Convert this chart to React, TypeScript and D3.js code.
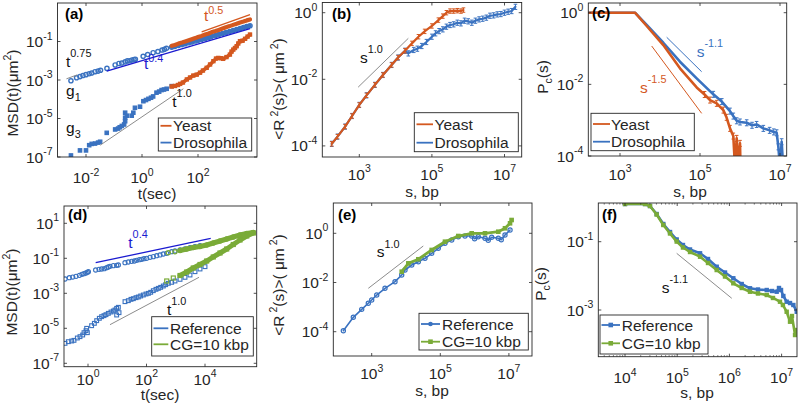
import React from 'react';
import * as d3 from 'd3';

type P = [number, number];

// ================= Panel (a): MSD(t), yeast vs drosophila =================
const aXTicks = [-2, 0, 2];
const aYTicks = [-7, -5, -3, -1];
const aDrosG1: P[] = [
  [2.9e-3, 9.1e-4], [4.6e-3, 1.3e-3], [6.1e-3, 1.5e-3], [7.8e-3, 1.7e-3], [1.0e-2, 1.9e-3],
  [1.3e-2, 2.1e-3], [1.6e-2, 2.3e-3], [2.1e-2, 2.7e-3], [2.7e-2, 2.9e-3], [3.3e-2, 3.2e-3],
  [5.6e-2, 4.0e-3], [0.11, 6.0e-3], [0.15, 7.2e-3], [0.19, 7.6e-3], [0.25, 8.7e-3],
  [0.30, 9.8e-3], [0.37, 1.0e-2], [0.44, 1.1e-2], [0.52, 1.15e-2], [0.58, 1.2e-2],
  [1.1, 1.7e-2], [1.6, 2.1e-2], [2.5, 2.6e-2], [3.7, 3.0e-2], [5.2, 3.6e-2], [6.3, 3.9e-2], [7.5, 4.4e-2],
  [11.5, 0.051], [15, 0.056], [20, 0.062], [27, 0.069], [35, 0.077], [47, 0.086], [60, 0.095],
  [80, 0.106], [100, 0.115], [135, 0.13], [180, 0.145], [240, 0.162], [300, 0.18], [420, 0.205],
  [550, 0.23], [750, 0.26], [1000, 0.29], [1350, 0.33], [1800, 0.37], [2400, 0.42], [3200, 0.47],
  [4200, 0.53], [5500, 0.6], [7200, 0.66],
];
const aYeastG1: P[] = [
  [11.5, 0.06], [15, 0.066], [20, 0.078], [27, 0.088], [35, 0.1], [47, 0.115], [60, 0.13],
  [80, 0.15], [100, 0.17], [135, 0.195], [180, 0.23], [240, 0.26], [300, 0.3], [420, 0.35],
  [550, 0.4], [750, 0.47], [1000, 0.55], [1350, 0.63], [1800, 0.73], [2400, 0.84], [3200, 0.98],
  [4200, 1.1], [5500, 1.25], [7200, 1.4],
];
const aDrosG3: P[] = [
  [2.9e-3, 1.2e-7], [6.1e-3, 2.2e-7], [1.0e-2, 2.2e-7], [1.3e-2, 4.1e-7], [1.6e-2, 4.8e-7],
  [2.1e-2, 5.0e-7], [2.7e-2, 5.6e-7], [3.2e-2, 6.2e-7], [5.5e-2, 1.8e-6], [0.11, 2.7e-6],
  [0.14, 3.0e-6], [0.16, 3.5e-6], [0.19, 4.1e-6], [0.23, 4.9e-6], [0.25, 7.2e-6], [0.25, 1.1e-5],
  [0.25, 2.0e-5], [0.29, 1.4e-5], [0.43, 1.4e-5], [0.49, 2.0e-5], [0.56, 3.6e-5], [0.85, 4.1e-5],
  [1.12, 7.9e-5], [1.39, 9.1e-5], [1.7, 1.05e-4], [2.1, 1.2e-4], [2.5, 1.4e-4], [3.3, 2.2e-4],
  [4.1, 2.5e-4], [5.0, 3.0e-4], [6.1, 3.2e-4], [7.6, 3.5e-4], [11.5, 4.8e-4],
];
const aYeastG3: P[] = [
  [11.5, 4.6e-4], [15, 4.9e-4], [19.3, 5.5e-4], [23, 6.3e-4], [29, 7.4e-4], [40, 1.07e-3],
  [52, 1.35e-3], [68, 1.7e-3], [90, 1.9e-3], [118, 2.4e-3], [150, 3.1e-3], [204, 4.3e-3],
  [270, 6.4e-3], [355, 9.5e-3], [440, 1.3e-2], [530, 1.4e-2], [660, 1.35e-2], [790, 1.26e-2],
  [1040, 1.55e-2], [1380, 2.1e-2], [1580, 3.0e-2], [1820, 3.8e-2], [2090, 4.6e-2], [2400, 5.7e-2],
  [2750, 7.9e-2], [3160, 0.104], [3900, 0.11], [4800, 0.138], [5900, 0.18], [7200, 0.23],
];
const aFitT075: P[] = [[2.0e-3, 1.15e-3], [4.9e-3, 1.86e-3]];
const aFitT04: P[] = [[0.055, 2.9e-3], [7200, 0.46]];
const aFitT05: P[] = [[135, 0.32], [7200, 2.5]];
const aFitT10: P[] = [[0.032, 4.1e-7], [30, 3.5e-4]];

// ================= Panel (b): <R^2(s)> =================
const bXTicks = [3, 5, 7];
const bYTicks = [-4, -2, 0];
const bYeast: P[] = [
  [174, 1.15e-4], [251, 1.9e-4], [407, 3.8e-4], [631, 7.9e-4], [1000, 1.7e-3], [1580, 3.3e-3],
  [2690, 6.8e-3], [4470, 1.35e-2], [7760, 2.7e-2], [11700, 4.5e-2], [18200, 7.2e-2], [28200, 0.12],
  [42700, 0.19], [63100, 0.275], [1e5, 0.4], [151000, 0.6], [200000, 0.79], [251000, 1.0],
  [316000, 1.12], [398000, 1.12], [501000, 1.15], [631000, 1.12], [741000, 1.2],
];
const bDros: P[] = [
  [174, 1.15e-4], [251, 1.9e-4], [407, 3.8e-4], [631, 7.9e-4], [1000, 1.7e-3], [1580, 3.3e-3],
  [2690, 6.8e-3], [4470, 1.35e-2], [7760, 2.7e-2], [11700, 4.5e-2], [18200, 7.2e-2],
  [22400, 0.06], [31600, 0.076], [39800, 0.083], [52500, 0.1], [70800, 0.132], [1e5, 0.19],
  [126000, 0.24], [158000, 0.28], [200000, 0.316], [251000, 0.38], [316000, 0.427],
  [398000, 0.447], [501000, 0.5], [631000, 0.479], [794000, 0.575], [1e6, 0.55], [1.26e6, 0.5],
  [1.58e6, 0.575], [2e6, 0.63], [2.51e6, 0.66], [3.16e6, 0.71], [3.98e6, 0.81], [5.01e6, 0.83],
  [6.31e6, 0.89], [7.94e6, 0.91], [1e7, 1.0], [1.26e7, 1.07], [1.58e7, 1.12], [2e7, 1.5],
];
const bFitS10: P[] = [[930, 5.8e-3], [22400, 0.17]];

// ================= Panel (c): Pc(s) =================
const cXTicks = [3, 5, 7];
const cYTicks = [-4, -2, 0];
const cYeast: P[] = [
  [162, 1], [2370, 1], [4650, 0.425], [12100, 0.125], [31600, 0.028], [82600, 8.2e-3],
  [1.3e5, 5.2e-3], [1.78e5, 3.64e-3], [2.61e5, 2.95e-3], [3.83e5, 1.91e-3], [4.6e5, 1.2e-3],
  [5.62e5, 5.9e-4], [6.8e5, 3.6e-4], [7.5e5, 5e-5], [8.26e5, 3.1e-4], [9.1e5, 5e-5],
  [1e6, 2.25e-4], [1.03e6, 5e-5],
];
const cDros: P[] = [
  [162, 1], [2370, 1], [4650, 0.453], [12100, 0.145], [31600, 0.0428], [82600, 0.0147],
  [2.15e5, 5.26e-3], [3.5e5, 3.3e-3], [5.62e5, 1.79e-3], [6.8e5, 1.3e-3], [8.26e5, 9.6e-4],
  [1.0e6, 8.9e-4], [1.47e6, 8.45e-4], [2.0e6, 7.2e-4], [2.6e6, 7.6e-4], [3.83e6, 5.9e-4],
  [5.5e6, 5.2e-4], [7.0e6, 4.7e-4], [8.26e6, 4.44e-4], [9.1e6, 1.8e-4], [1e7, 5e-5],
  [1.1e7, 2.5e-4], [1.2e7, 5e-5],
];
const cFitDros: P[] = [[14700, 0.206], [1.1e5, 0.0225]];
const cFitYeast: P[] = [[6200, 0.1175], [1.1e5, 1.55e-3]];

// ================= Panel (d): MSD(t), reference vs CG =================
const dXTicks = [0, 2, 4];
const dYTicks = [-7, -5, -3, -1, 1];
const dRefG1: P[] = [
  [0.164, 6.56e-3], [0.23, 7.8e-3], [0.30, 8.5e-3], [0.39, 9.3e-3], [0.51, 1.06e-2], [0.62, 1.21e-2],
  [0.73, 1.32e-2], [0.855, 1.45e-2], [0.95, 1.58e-2], [1.03, 1.72e-2], [1.83, 2.14e-2], [2.38, 2.34e-2],
  [2.93, 2.45e-2], [3.61, 2.56e-2], [4.35, 2.92e-2], [4.95, 3.18e-2], [5.65, 3.48e-2], [7.35, 3.79e-2],
  [9.55, 3.96e-2], [10.9, 4.14e-2], [18.4, 5.62e-2], [23.9, 6.15e-2], [31.1, 6.71e-2], [38.4, 7.0e-2],
  [46.1, 7.66e-2], [56.9, 8.36e-2], [68.4, 8.73e-2], [82.2, 9.5e-2], [101, 9.95e-2], [132, 0.114],
  [171, 0.124], [223, 0.141], [290, 0.155], [376, 0.176], [489, 0.192], [724, 0.239], [942, 0.261],
  [1400, 0.298], [2070, 0.34], [3070, 0.405], [4550, 0.462], [6750, 0.527],
];
const dRefG3: P[] = [
  [0.164, 1.38e-6], [0.213, 1.72e-6], [0.277, 1.88e-6], [0.332, 2.05e-6], [0.432, 2.79e-6],
  [0.532, 3.33e-6], [0.658, 4.14e-6], [0.73, 5.62e-6], [0.855, 7.33e-6], [0.90, 9.95e-6],
  [0.95, 5.62e-6], [1.33, 1.41e-5], [1.65, 1.92e-5], [1.98, 2.73e-5], [2.44, 3.72e-5], [2.93, 4.62e-5],
  [3.52, 5.27e-5], [4.12, 6.01e-5], [4.95, 7.16e-5], [6.11, 8.53e-5], [7.35, 9.73e-5], [8.37, 1.11e-4],
  [9.55, 1.38e-4], [9.55, 5.75e-5], [10.9, 1.58e-4], [11.5, 7.82e-5], [18.4, 3.33e-4], [23.9, 3.79e-4],
  [29.5, 4.52e-4], [35.5, 4.93e-4], [43.8, 5.62e-4], [52.6, 6.15e-4], [63.2, 7.02e-4], [78, 8.0e-4],
  [96.2, 9.12e-4], [116, 9.95e-4], [139, 1.14e-3], [171, 1.41e-3], [211, 1.69e-3], [254, 1.92e-3],
  [305, 2.19e-3], [376, 2.61e-3], [452, 3.11e-3], [557, 3.72e-3], [724, 4.24e-3], [942, 5.05e-3],
  [1400, 6.28e-3], [2070, 8.18e-3], [3070, 1.11e-2], [4550, 1.72e-2], [6750, 2.45e-2], [10000, 3.33e-2],
];
const dCgG1: P[] = [
  [556, 0.209], [942, 0.238], [1400, 0.279], [2370, 0.34], [3980, 0.414], [6750, 0.472],
  [11400, 0.575], [19200, 0.748], [32600, 0.975], [55200, 1.27], [92700, 1.65], [157000, 2.14],
  [267000, 2.61], [448000, 2.98],
];
const dCgG3: P[] = [
  [491, 5.05e-3], [824, 7.48e-3], [1400, 1.04e-2], [2370, 1.65e-2], [3980, 2.79e-2], [6750, 4.43e-2],
  [11400, 7.0e-2], [19200, 0.119], [32600, 0.201], [55200, 0.34], [92700, 0.615], [157000, 1.11],
  [267000, 1.88], [448000, 2.79],
];
const dFitT04: P[] = [[1.83, 5.6e-2], [15700, 1.39]];
const dFitT10: P[] = [[5.65, 1.61e-5], [6240, 8.2e-3]];

// ================= Panel (e): <R^2(s)>, reference vs CG =================
const eXTicks = [3, 5, 7];
const eYTicks = [-4, -2, 0];
const eRef: P[] = [
  [149, 1.1e-4], [291, 3.85e-4], [511, 8.1e-4], [796, 1.43e-3], [1000, 1.94e-3], [1400, 3.1e-3],
  [2440, 5.8e-3], [4780, 1.08e-2], [7500, 2.02e-2], [9360, 3.22e-2], [14700, 5.14e-2], [22900, 7.0e-2],
  [35800, 9.6e-2], [56100, 0.154], [87500, 0.245], [137000, 0.392], [215000, 0.535], [335000, 0.727],
  [525000, 0.776], [822000, 0.776], [1.0e6, 0.6], [1.28e6, 0.727], [2.01e6, 0.627], [2.5e6, 0.52],
  [3.15e6, 0.687], [4.91e6, 0.627], [6.0e6, 0.55], [7.69e6, 0.853], [1.08e7, 1.36],
];
const eCg: P[] = [
  [7500, 2.75e-2], [11700, 6.0e-2], [22900, 8.8e-2], [56100, 0.21], [137000, 0.456], [335000, 0.776],
  [822000, 1.0], [2.01e6, 1.0], [4.91e6, 1.16], [7.69e6, 1.6], [1.08e7, 2.55], [1.2e7, 3.47],
];
const eFitS10: P[] = [[796, 5.8e-3], [31900, 0.305]];

// ================= Panel (f): Pc(s), reference vs CG =================
const fXTicks = [4, 5, 6, 7];
const fYTicks = [-3, -1];
const fRef: P[] = [
  [1e4, 1.27], [2.42e4, 1.27], [3.01e4, 1.11], [4.04e4, 0.647], [5.42e4, 0.33], [7.28e4, 0.192],
  [9.77e4, 0.116], [1.29e5, 0.08], [1.76e5, 0.0591], [2.74e5, 0.0457], [3.89e5, 0.0311],
  [5.71e5, 0.0185], [8.24e5, 0.0125], [1.19e6, 8.48e-3], [1.72e6, 5.77e-3], [2.48e6, 4.32e-3],
  [3.53e6, 3.98e-3], [5.19e6, 3.85e-3], [6.55e6, 3.6e-3], [8.05e6, 3.43e-3], [8.91e6, 4.41e-3],
  [9.75e6, 3.85e-3], [1.08e7, 2.57e-3], [1.25e7, 1.75e-3], [1.45e7, 1.6e-3], [1.68e7, 1.4e-3],
  [1.95e7, 8.9e-4],
];
const fCg: P[] = [
  [1e4, 1.27], [2.42e4, 1.27], [3.01e4, 1.11], [4.04e4, 0.625], [5.42e4, 0.308], [7.28e4, 0.174],
  [9.77e4, 0.101], [1.29e5, 0.0676], [1.76e5, 0.0499], [2.74e5, 0.0364], [3.89e5, 0.0238],
  [5.71e5, 0.0148], [8.24e5, 9.57e-3], [1.19e6, 6.05e-3], [1.72e6, 4.41e-3], [2.48e6, 3.43e-3],
  [3.53e6, 3.04e-3], [5.19e6, 2.75e-3], [6.84e6, 2.25e-3], [9.31e6, 1.75e-3], [1.06e7, 1.4e-3],
  [1.25e7, 8.9e-4], [1.45e7, 4.54e-4], [1.58e7, 6.67e-4], [1.81e7, 1.85e-4], [1.95e7, 2.59e-4],
];
const fFitS11: P[] = [[9.77e4, 0.0457], [1.11e6, 2.2e-3]];

// ================= styling / layout =================
const FONT = '"Liberation Sans", Arial, Helvetica, sans-serif';
const BLUE = '#3a72c0';
const ORANGE = '#d4581f';
const GREEN = '#7aab38';
const REFBLUE = '#1b1bd0';
const GRAY = '#8c8c8c';
const AX = '#262626';
const FS = 15.5;
const FS_LEG = 15.5;
const FS_TITLE = 15.5;

const xsA = d3.scaleLog().domain([1e-2, 1e2]).range([86, 198]);
const ysA = d3.scaleLog().domain([1e-7, 1e-1]).range([157, 41.5]);
const xsB = d3.scaleLog().domain([1e3, 1e7]).range([359.3, 504.5]);
const ysB = d3.scaleLog().domain([1e-4, 1]).range([145.9, 12.7]);
const xsC = d3.scaleLog().domain([1e3, 1e7]).range([620, 780]);
const ysC = d3.scaleLog().domain([1e-4, 1]).range([156, 12.7]);
const xsD = d3.scaleLog().domain([1, 1e4]).range([88, 205]);
const ysD = d3.scaleLog().domain([1e-7, 10]).range([363.3, 223.3]);
const xsE = d3.scaleLog().domain([1e3, 1e7]).range([371.7, 508.9]);
const ysE = d3.scaleLog().domain([1e-4, 1]).range([331.7, 233.3]);
const xsF = d3.scaleLog().domain([1e4, 1e7]).range([625, 781.6]);
const ysF = d3.scaleLog().domain([1e-3, 1e-1]).range([310, 241.7]);

type Part = { t: string; k?: 'sup' | 'sub' };
function rich(parts: Part[], fs: number, supDy: number, subDy: number, ratio = 0.68) {
  let cur = 0;
  return parts.map((p, i) => {
    const target = p.k === 'sup' ? supDy : p.k === 'sub' ? subDy : 0;
    const dy = target - cur;
    cur = target;
    return (
      <tspan key={i} dy={dy} fontSize={p.k ? fs * ratio : fs}>
        {p.t}
      </tspan>
    );
  });
}

interface Series {
  data: P[];
  color: string;
  lw?: number;
  lineFrom?: number;
  marker?: 'o' | 's';
  ms?: number;
  filled?: boolean;
  mw?: number;
  err?: number;
  errFrom?: number;
}
interface Fit { data: P[]; color: string; w?: number }
interface Box { x0: number; x1: number; y0: number; y1: number }

function Panel(props: {
  id: string; box: Box; xs: any; ys: any; xTicks: number[]; yTicks: number[];
  xMinor?: boolean; xLabelY: number; series: Series[]; fits: Fit[];
}) {
  const { id, box, xs, ys, xTicks, yTicks, xMinor, xLabelY, series, fits } = props;
  const line = d3.line<P>().x((d) => xs(d[0])).y((d) => ys(d[1]));
  const clip = `clip-${id}`;
  const tk = 3;
  const minor: number[] = [];
  if (xMinor) {
    const lo = Math.floor(Math.log10(xs.invert(box.x0)));
    const hi = Math.ceil(Math.log10(xs.invert(box.x1)));
    for (let k = lo; k <= hi; k++)
      for (let m = 2; m <= 9; m++) {
        const px = xs(m * Math.pow(10, k));
        if (px > box.x0 + 0.5 && px < box.x1 - 0.5) minor.push(px);
      }
  }
  return (
    <g>
      <defs>
        <clipPath id={clip}>
          <rect x={box.x0} y={box.y0} width={box.x1 - box.x0} height={box.y1 - box.y0} />
        </clipPath>
      </defs>
      <g clipPath={`url(#${clip})`}>
        {series.map((s, i) => {
          const ld = s.lineFrom !== undefined ? s.data.filter((d) => d[0] >= (s.lineFrom as number)) : s.data;
          const ms = s.ms ?? 2;
          return (
            <g key={i}>
              {s.lw ? (
                <path d={line(ld) || ''} fill="none" stroke={s.color} strokeWidth={s.lw}
                  strokeLinejoin="round" strokeLinecap="round" />
              ) : null}
              {s.err
                ? s.data
                    .filter((d) => s.errFrom === undefined || d[0] >= (s.errFrom as number))
                    .map((d, j) => {
                      const cx = xs(d[0]);
                      const cy = ys(d[1]);
                      const e = s.err as number;
                      return (
                        <path key={j} d={`M${cx},${cy - e}V${cy + e}M${cx - 1.8},${cy - e}H${cx + 1.8}M${cx - 1.8},${cy + e}H${cx + 1.8}`}
                          stroke={s.color} strokeWidth={1} fill="none" />
                      );
                    })
                : null}
              {s.marker
                ? s.data.map((d, j) => {
                    const cx = xs(d[0]);
                    const cy = ys(d[1]);
                    const fill = s.filled ? s.color : 'none';
                    return s.marker === 'o' ? (
                      <circle key={j} cx={cx} cy={cy} r={ms} fill={fill} stroke={s.color} strokeWidth={s.mw ?? 1.2} />
                    ) : (
                      <rect key={j} x={cx - ms} y={cy - ms} width={2 * ms} height={2 * ms} fill={fill}
                        stroke={s.color} strokeWidth={s.mw ?? 1.2} />
                    );
                  })
                : null}
            </g>
          );
        })}
        {fits.map((f, i) => (
          <path key={`f${i}`} d={line(f.data) || ''} fill="none" stroke={f.color} strokeWidth={f.w ?? 1} />
        ))}
      </g>
      <rect x={box.x0} y={box.y0} width={box.x1 - box.x0} height={box.y1 - box.y0} fill="none" stroke={AX} strokeWidth={0.9} />
      {xTicks.map((e) => {
        const x = xs(Math.pow(10, e));
        return (
          <g key={`xt${e}`}>
            <line x1={x} x2={x} y1={box.y1} y2={box.y1 - tk} stroke={AX} strokeWidth={0.8} />
            <line x1={x} x2={x} y1={box.y0} y2={box.y0 + tk} stroke={AX} strokeWidth={0.8} />
            <text x={x} y={xLabelY} textAnchor="middle" fontSize={FS} fill={AX}>
              10<tspan dy={-7.5} fontSize={10.5}>{e}</tspan>
            </text>
          </g>
        );
      })}
      {minor.map((x, i) => (
        <g key={`mn${i}`}>
          <line x1={x} x2={x} y1={box.y1} y2={box.y1 - 1.6} stroke={AX} strokeWidth={0.6} />
          <line x1={x} x2={x} y1={box.y0} y2={box.y0 + 1.6} stroke={AX} strokeWidth={0.6} />
        </g>
      ))}
      {yTicks.map((e) => {
        const y = ys(Math.pow(10, e));
        return (
          <g key={`yt${e}`}>
            <line x1={box.x0} x2={box.x0 + tk} y1={y} y2={y} stroke={AX} strokeWidth={0.8} />
            <line x1={box.x1} x2={box.x1 - tk} y1={y} y2={y} stroke={AX} strokeWidth={0.8} />
            <text x={box.x0 - 5} y={y + 5.5} textAnchor="end" fontSize={FS} fill={AX}>
              10<tspan dy={-7.5} fontSize={10.5}>{e}</tspan>
            </text>
          </g>
        );
      })}
    </g>
  );
}

function Legend(props: {
  x0: number; y0: number; x1: number; y1: number; lx0: number; lx1: number; tx: number;
  items: { label: string; color: string; y: number; marker?: 'o' | 's' }[];
}) {
  const { x0, y0, x1, y1, lx0, lx1, tx, items } = props;
  return (
    <g>
      <rect x={x0} y={y0} width={x1 - x0} height={y1 - y0} fill="#fff" stroke={AX} strokeWidth={0.9} />
      {items.map((it, i) => {
        const mx = (lx0 + lx1) / 2;
        return (
          <g key={i}>
            <line x1={lx0} x2={lx1} y1={it.y} y2={it.y} stroke={it.color} strokeWidth={1.8} />
            {it.marker === 'o' ? <circle cx={mx} cy={it.y} r={2.3} fill={it.color} /> : null}
            {it.marker === 's' ? <rect x={mx - 2.3} y={it.y - 2.3} width={4.6} height={4.6} fill={it.color} /> : null}
            <text x={tx} y={it.y + 5.5} fontSize={FS_LEG} fill={AX}>{it.label}</text>
          </g>
        );
      })}
    </g>
  );
}

function Ann(props: { x: number; y: number; parts: Part[]; color: string; supDy?: number }) {
  return (
    <text x={props.x} y={props.y} fontSize={FS} fill={props.color}>
      {rich(props.parts, FS, props.supDy ?? -8.5, 5, 0.7)}
    </text>
  );
}

function YTitle(props: { x: number; y: number; parts: Part[] }) {
  return (
    <text transform={`translate(${props.x},${props.y}) rotate(-90)`} textAnchor="middle" fontSize={FS_TITLE} fill={AX}>
      {rich(props.parts, FS_TITLE, -6.5, 4.5)}
    </text>
  );
}

function XTitle(props: { x: number; y: number; text: string }) {
  return (
    <text x={props.x} y={props.y} textAnchor="middle" fontSize={FS_TITLE} fill={AX}>{props.text}</text>
  );
}

function Tag(props: { x: number; y: number; t: string }) {
  return (
    <text x={props.x} y={props.y} fontSize={15} fontWeight="bold" fill="#000">{props.t}</text>
  );
}

const msdTitle: Part[] = [{ t: 'MSD(t)(μm' }, { t: '2', k: 'sup' }, { t: ')' }];
const r2Title: Part[] = [{ t: '<R' }, { t: ' 2', k: 'sup' }, { t: '(s)>( μm' }, { t: ' 2', k: 'sup' }, { t: ')' }];
const pcTitle: Part[] = [{ t: 'P' }, { t: 'c', k: 'sub' }, { t: '(s)' }];

export default function App() {
  return (
    <svg width={800} height={407} viewBox="0 0 800 407" fontFamily={FONT}
      style={{ position: 'absolute', left: 0, top: 0, display: 'block', background: '#fff' }}>
      <rect x={0} y={0} width={800} height={407} fill="#fff" />

      {/* ---------------- (a) ---------------- */}
      <Panel id="a" box={{ x0: 57.5, x1: 257, y0: 3, y1: 157 }} xs={xsA} ys={ysA}
        xTicks={aXTicks} yTicks={aYTicks} xLabelY={183}
        series={[
          { data: aDrosG1, color: BLUE, lw: 3.6, lineFrom: 11, marker: 'o', ms: 2.1, mw: 1.4 },
          { data: aDrosG3, color: BLUE, marker: 's', ms: 1.7, filled: true },
          { data: aYeastG1, color: ORANGE, lw: 4.2 },
          { data: aYeastG3, color: ORANGE, lw: 3.6, marker: 's', ms: 1.6, filled: true },
        ]}
        fits={[
          { data: aFitT075, color: GRAY },
          { data: aFitT04, color: REFBLUE, w: 1.3 },
          { data: aFitT05, color: ORANGE, w: 1.3 },
          { data: aFitT10, color: GRAY },
        ]} />
      <Tag x={65} y={19} t="(a)" />
      <Ann x={66} y={66.7} parts={[{ t: 't' }, { t: '0.75', k: 'sup' }]} color="#111" supDy={-10} />
      <Ann x={144} y={69} parts={[{ t: 't' }, { t: '0.4', k: 'sup' }]} color={REFBLUE} supDy={-7.5} />
      <Ann x={204} y={21} parts={[{ t: 't' }, { t: '0.5', k: 'sup' }]} color={ORANGE} supDy={-7.5} />
      <Ann x={172.3} y={106.7} parts={[{ t: 't' }, { t: '1.0', k: 'sup' }]} color="#111" supDy={-9.5} />
      <Ann x={66} y={96} parts={[{ t: 'g' }, { t: '1', k: 'sub' }]} color="#111" />
      <Ann x={66} y={133} parts={[{ t: 'g' }, { t: '3', k: 'sub' }]} color="#111" />
      <Legend x0={158.3} y0={118} x1={251.7} y1={151} lx0={160.5} lx1={171.5} tx={173}
        items={[{ label: 'Yeast', color: ORANGE, y: 125.8 }, { label: 'Drosophila', color: BLUE, y: 142.6 }]} />
      <YTitle x={17.5} y={93} parts={msdTitle} />
      <XTitle x={157} y={199} text="t(sec)" />

      {/* ---------------- (b) ---------------- */}
      <Panel id="b" box={{ x0: 322.3, x1: 521.7, y0: 2.5, y1: 157 }} xs={xsB} ys={ysB}
        xTicks={bXTicks} yTicks={bYTicks} xLabelY={179.5}
        series={[
          { data: bDros, color: BLUE, lw: 2.2, err: 2.6 },
          { data: bYeast, color: ORANGE, lw: 2.2, err: 2.2 },
        ]}
        fits={[{ data: bFitS10, color: GRAY }]} />
      <Tag x={332} y={19} t="(b)" />
      <Ann x={360} y={63.3} parts={[{ t: 's' }, { t: '1.0', k: 'sup' }]} color="#111" supDy={-10} />
      <Legend x0={414.3} y0={112.7} x1={518.3} y1={151.7} lx0={416.5} lx1={433} tx={434.5}
        items={[{ label: 'Yeast', color: ORANGE, y: 124.3 }, { label: 'Drosophila', color: BLUE, y: 142.7 }]} />
      <YTitle x={284} y={89} parts={r2Title} />
      <XTitle x={422} y={196.5} text="s, bp" />

      {/* ---------------- (c) ---------------- */}
      <Panel id="c" box={{ x0: 588.3, x1: 786.7, y0: 3, y1: 156 }} xs={xsC} ys={ysC}
        xTicks={cXTicks} yTicks={cYTicks} xLabelY={179.5}
        series={[
          { data: cDros, color: BLUE, lw: 2.6, err: 3, errFrom: 2e5 },
          { data: cYeast, color: ORANGE, lw: 2.6, err: 3, errFrom: 1e5 },
        ]}
        fits={[{ data: cFitDros, color: BLUE }, { data: cFitYeast, color: ORANGE }]} />
      <Tag x={592} y={18} t="(c)" />
      <Ann x={696.7} y={56.7} parts={[{ t: 's' }, { t: '-1.1', k: 'sup' }]} color={BLUE} supDy={-10} />
      <Ann x={640} y={93.3} parts={[{ t: 's' }, { t: '-1.5', k: 'sup' }]} color={ORANGE} supDy={-10} />
      <Legend x0={591} y0={113.3} x1={694.3} y1={150.7} lx0={593} lx1={610} tx={611}
        items={[{ label: 'Yeast', color: ORANGE, y: 124 }, { label: 'Drosophila', color: BLUE, y: 141.7 }]} />
      <YTitle x={547.5} y={77} parts={pcTitle} />
      <XTitle x={690} y={196.5} text="s, bp" />

      {/* ---------------- (d) ---------------- */}
      <Panel id="d" box={{ x0: 64, x1: 256.7, y0: 206, y1: 366.7 }} xs={xsD} ys={ysD}
        xTicks={dXTicks} yTicks={dYTicks} xLabelY={384.5}
        series={[
          { data: dRefG1, color: BLUE, marker: 'o', ms: 2.1, mw: 1.1 },
          { data: dRefG3, color: BLUE, marker: 's', ms: 1.9, mw: 1.1 },
          { data: dCgG1, color: GREEN, lw: 5, lineFrom: 1400, marker: 'o', ms: 2.1, mw: 1.2 },
          { data: dCgG3, color: GREEN, lw: 5, lineFrom: 1400, marker: 's', ms: 2.0, mw: 1.2 },
        ]}
        fits={[{ data: dFitT04, color: REFBLUE, w: 1.3 }, { data: dFitT10, color: GRAY }]} />
      <Tag x={68} y={220} t="(d)" />
      <Ann x={128.3} y={248.3} parts={[{ t: 't' }, { t: '0.4', k: 'sup' }]} color={REFBLUE} supDy={-10} />
      <Ann x={167} y={315} parts={[{ t: 't' }, { t: '1.0', k: 'sup' }]} color="#111" supDy={-10} />
      <Legend x0={151.7} y0={316.7} x1={253.3} y1={356} lx0={153.5} lx1={168.3} tx={170}
        items={[{ label: 'Reference', color: BLUE, y: 328.3 }, { label: 'CG=10 kbp', color: GREEN, y: 344.3 }]} />
      <YTitle x={16.5} y={292} parts={msdTitle} />
      <XTitle x={160} y={399.5} text="t(sec)" />

      {/* ---------------- (e) ---------------- */}
      <Panel id="e" box={{ x0: 333.3, x1: 532, y0: 203, y1: 356 }} xs={xsE} ys={ysE}
        xTicks={eXTicks} yTicks={eYTicks} xLabelY={379}
        series={[
          { data: eRef, color: BLUE, lw: 1.6, marker: 'o', ms: 2.1, mw: 1.2 },
          { data: eCg, color: GREEN, lw: 2.8, marker: 's', ms: 1.7, filled: true },
        ]}
        fits={[{ data: eFitS10, color: GRAY }]} />
      <Tag x={338} y={220} t="(e)" />
      <Ann x={376.7} y={256.7} parts={[{ t: 's' }, { t: '1.0', k: 'sup' }]} color="#111" supDy={-9} />
      <Legend x0={419} y0={313.3} x1={528.3} y1={350} lx0={421} lx1={440} tx={442}
        items={[
          { label: 'Reference', color: BLUE, y: 324, marker: 'o' },
          { label: 'CG=10 kbp', color: GREEN, y: 341.7, marker: 's' },
        ]} />
      <YTitle x={283.5} y={285} parts={r2Title} />
      <XTitle x={432} y={396} text="s, bp" />

      {/* ---------------- (f) ---------------- */}
      <Panel id="f" box={{ x0: 598.3, x1: 797, y0: 203, y1: 356.7 }} xs={xsF} ys={ysF}
        xTicks={fXTicks} yTicks={fYTicks} xMinor xLabelY={383}
        series={[
          { data: fRef, color: BLUE, lw: 2.6, marker: 's', ms: 1.6, filled: true },
          { data: fCg, color: GREEN, lw: 2.6, marker: 's', ms: 1.6, filled: true },
        ]}
        fits={[{ data: fFitS11, color: GRAY }]} />
      <Tag x={602} y={220} t="(f)" />
      <Ann x={661.7} y={293.3} parts={[{ t: 's' }, { t: '-1.1', k: 'sup' }]} color="#111" supDy={-10} />
      <Legend x0={600} y0={315} x1={708} y1={354} lx0={601.5} lx1={620} tx={621.7}
        items={[
          { label: 'Reference', color: BLUE, y: 325, marker: 's' },
          { label: 'CG=10 kbp', color: GREEN, y: 343.3, marker: 's' },
        ]} />
      <YTitle x={545.5} y={284} parts={pcTitle} />
      <XTitle x={697} y={397.5} text="s, bp" />
    </svg>
  );
}
